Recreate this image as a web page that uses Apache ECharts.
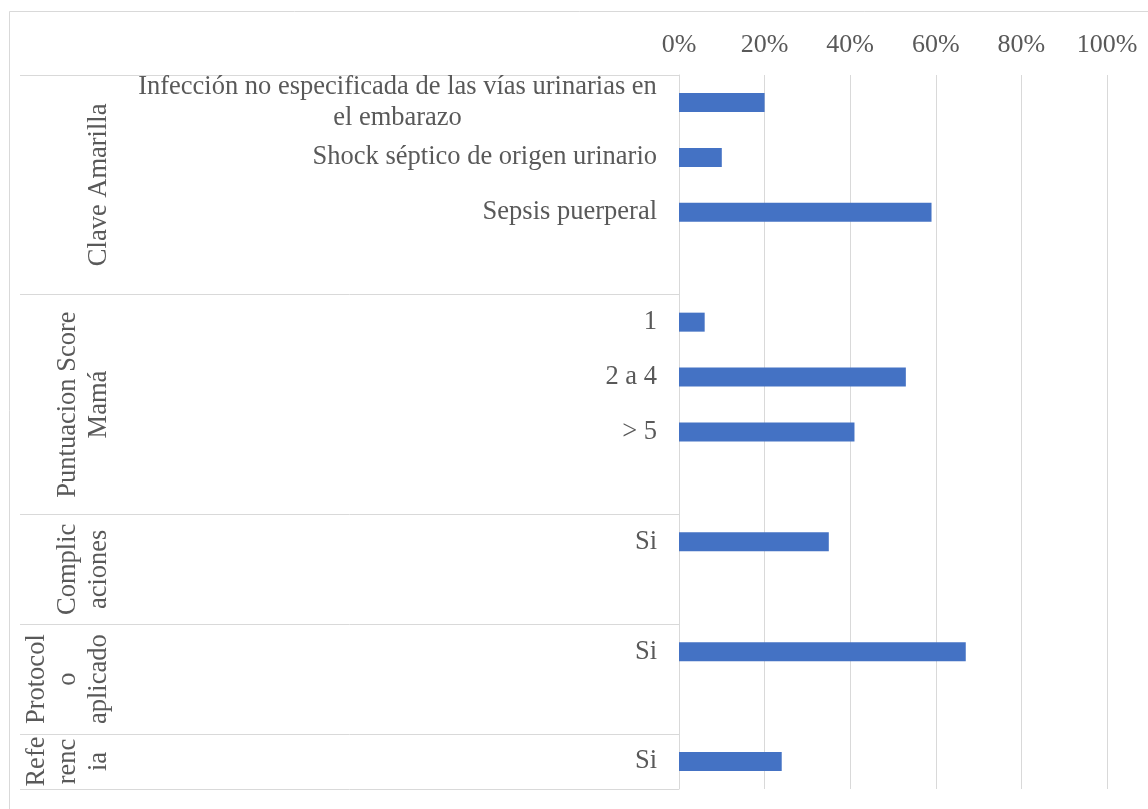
<!DOCTYPE html>
<html>
<head>
<meta charset="utf-8">
<script src="https://cdn.jsdelivr.net/npm/echarts@6/dist/echarts.min.js"></script>
<style>
html,body{margin:0;padding:0;background:#fff;}
#chart{width:1148px;height:809px;}
</style>
</head>
<body>
<div id="chart"></div>
<script>
// ---- data ----
const categories = [
  'Infección no especificada de las vías urinarias en\nel embarazo',
  'Shock séptico de origen urinario',
  'Sepsis puerperal',
  '',
  '1',
  '2 a 4',
  '> 5',
  '',
  'Si',
  '',
  'Si',
  '',
  'Si'
];
const values = [20, 10, 59, null, 6, 53, 41, null, 35, null, 67, null, 24];
const groupNames = [
  'Clave Amarilla',
  'Puntuacion Score\nMamá',
  'Complic\naciones',
  'Protocol\no\naplicado',
  'Refe\nrenc\nia'
];
const groupSpans = [4, 4, 2, 2, 1];
const xTicks = [0, 20, 40, 60, 80, 100];

// ---- derived ----
const groupStarts = [];
let acc = 0;
groupSpans.forEach(s => { groupStarts.push(acc); acc += s; });
const groupCenters = groupSpans.map((s, i) => groupStarts[i] + s / 2);

const FONT = '"Liberation Serif", "Times New Roman", serif';
const FS = 26;
const FS1 = 26.5;
const TXT = '#595959';
const GRID = '#d9d9d9';

const ctx = document.createElement('canvas').getContext('2d');
ctx.font = FS1 + 'px "Liberation Serif"';
function lineW(s) { return Math.ceil(ctx.measureText(s).width); }

const chart = echarts.init(document.getElementById('chart'), null, {renderer: 'canvas'});
chart.setOption({
  animation: false,
  backgroundColor: '#fff',
  graphic: [{
    type: 'rect',
    shape: {x: 9.5, y: 11.5, width: 1300, height: 1000},
    style: {fill: 'none', stroke: GRID, lineWidth: 1},
    silent: true,
    z: -1
  }],
  grid: {left: 679, right: 41, top: 75, bottom: 20, containLabel: false},
  xAxis: {
    type: 'value',
    position: 'top',
    min: xTicks[0],
    max: xTicks[xTicks.length - 1],
    interval: xTicks[1] - xTicks[0],
    axisLine: {show: false},
    axisTick: {show: false},
    axisLabel: {
      formatter: '{value}%',
      color: TXT, fontFamily: FONT, fontSize: FS, margin: 17
    },
    splitLine: {show: true, lineStyle: {color: GRID, width: 1}}
  },
  yAxis: [{
    type: 'category',
    inverse: true,
    data: categories,
    axisLine: {show: true, lineStyle: {color: GRID, width: 1}},
    axisTick: {
      show: true,
      length: 659,
      interval: function (idx) { return groupStarts.indexOf(idx) >= 0; },
      lineStyle: {color: GRID, width: 1}
    },
    axisLabel: {
      interval: 0,
      margin: 22,
      color: TXT, fontFamily: FONT, fontSize: FS1, lineHeight: 31,
      formatter: function (v) {
        if (v.indexOf('\n') < 0) return v;
        return v.split('\n').map(l => '{c|' + l + '}').join('\n');
      },
      rich: {
        c: {
          width: lineW(categories[0].split('\n')[0]),
          align: 'center',
          color: TXT, fontFamily: FONT, fontSize: FS1, lineHeight: 31
        }
      }
    },
    splitLine: {show: false}
  }, {
    type: 'value',
    inverse: true,
    position: 'left',
    min: 0,
    max: categories.length,
    interval: 0.5,
    axisLine: {show: false},
    axisTick: {show: false},
    splitLine: {show: false},
    axisLabel: {
      rotate: 90,
      margin: 564,
      color: TXT, fontFamily: FONT, fontSize: FS1, lineHeight: 31,
      formatter: function (v) {
        const i = groupCenters.findIndex(c => Math.abs(c - v) < 1e-6);
        return i >= 0 ? groupNames[i] : '';
      }
    }
  }],
  series: [{
    type: 'bar',
    yAxisIndex: 0,
    data: values,
    barWidth: 19,
    itemStyle: {color: '#4472C4'},
    silent: true
  }]
});
</script>
</body>
</html>
